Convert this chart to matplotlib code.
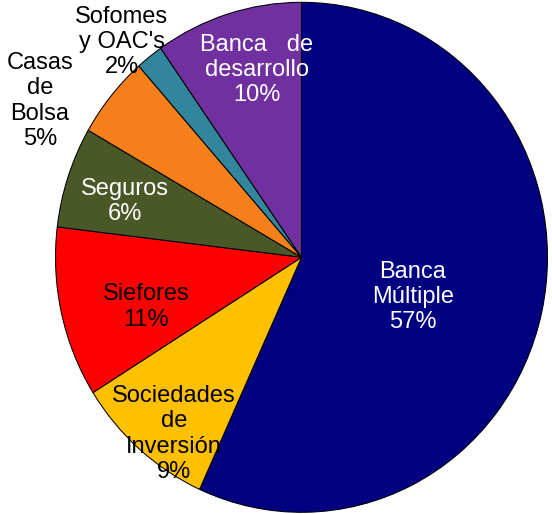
import matplotlib.pyplot as plt

# === data ===
sectors = ["Banca\nMúltiple", "Sociedades\nde\nInversión", "Siefores", "Seguros",
           "Casas\nde\nBolsa", "Sofomes\ny OAC's", "Banca   de\ndesarrollo"]
shares = [56.8, 9.3, 10.8, 6.4, 5.2, 1.8, 9.7]
colors = ["#000080", "#FFC000", "#FF0000", "#4A5828", "#F57F1A", "#31859C", "#7030A0"]
text_colors = ["white", "black", "black", "white", "black", "black", "white"]

# label anchor points (data units, pie radius = 1)
label_pos = [(0.453, -0.156), (-0.518, -0.693), (-0.632, -0.195), (-0.717, 0.217),
             (-1.063, 0.613), (-0.730, 0.844), (-0.181, 0.734)]

plt.rcParams['font.family'] = ['Liberation Sans', 'DejaVu Sans']

fig = plt.figure(figsize=(5.52, 5.14), dpi=100)
ax = fig.add_axes([0, 0, 1, 1])

ax.pie(shares, colors=colors, startangle=90, counterclock=False,
       wedgeprops=dict(edgecolor="black", linewidth=0.75))

# the original chart is slightly stretched vertically
ax.set_aspect("auto")
ax.set_xlim(-301.5 / 246, (552 - 301.5) / 246)
ax.set_ylim(-256.7 / 255, 257.3 / 255)
ax.axis("off")

for name, v, (x, y), c in zip(sectors, shares, label_pos, text_colors):
    ax.text(x, y, f"{name}\n{round(v)}%", ha="center", va="center",
            color=c, fontsize=17, linespacing=1.18)

fig.savefig("out.png", dpi=100)
